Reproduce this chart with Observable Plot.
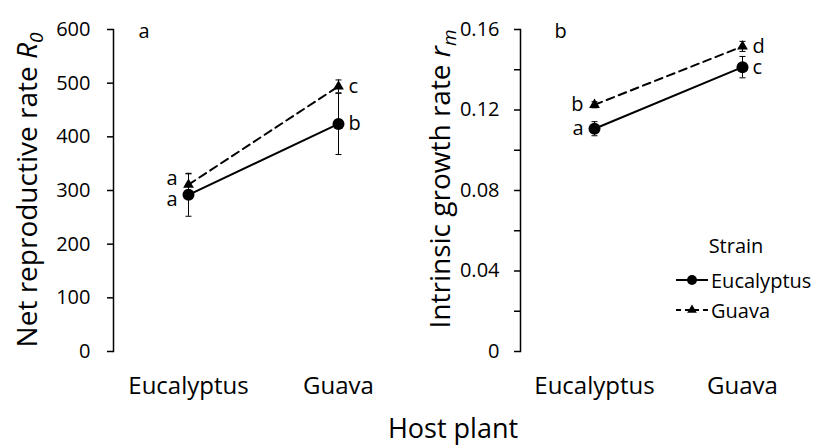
<!DOCTYPE html>
<html><head><meta charset="utf-8">
<script src="https://cdn.jsdelivr.net/npm/d3@7"></script>
<script src="https://cdn.jsdelivr.net/npm/@observablehq/plot@0.6"></script>
<style>
body{margin:0;background:#fff;overflow:hidden;font-family:"Open Sans",sans-serif;}
#wrap{position:relative;width:813px;height:445px;background:#fff;}
#left{position:absolute;left:0;top:0;}
#right{position:absolute;left:406px;top:0;}
#xtitle{position:absolute;top:410px;left:453px;transform:translateX(-50%);font-size:27px;white-space:nowrap;line-height:36px;color:#000;}
</style></head><body>
<div id="wrap"><div id="left"></div><div id="right"></div><div id="xtitle">Host plant</div></div>
<script>
// ---- data ----
const hostPlants = ["Eucalyptus", "Guava"];
const strains = ["Eucalyptus", "Guava"];

const r0EucStrain = [292, 424];
const r0EucStrainSE = [40, 57];
const r0EucLetters = ["a", "b"];
const r0GuaStrain = [311, 494];
const r0GuaStrainSE = [20, 12];
const r0GuaLetters = ["a", "c"];

const rmEucStrain = [0.1107, 0.1413];
const rmEucStrainSE = [0.0035, 0.0053];
const rmEucLetters = ["a", "c"];
const rmGuaStrain = [0.1226, 0.1516];
const rmGuaStrainSE = [0.0015, 0.0025];
const rmGuaLetters = ["b", "d"];

const r0Ticks = [0, 100, 200, 300, 400, 500, 600];
const rmTicks = [0, 0.02, 0.04, 0.06, 0.08, 0.10, 0.12, 0.14, 0.16];
const rmTickLabels = ["0", "", "0.04", "", "0.08", "", "0.12", "", "0.16"];

function buildRows(eucVals, eucSE, eucLet, guaVals, guaSE, guaLet) {
  const rows = [];
  hostPlants.forEach((h, i) => {
    rows.push({host: h, strain: strains[0], value: eucVals[i], se: eucSE[i], letter: eucLet[i]});
    rows.push({host: h, strain: strains[1], value: guaVals[i], se: guaSE[i], letter: guaLet[i]});
  });
  return rows;
}
const r0Rows = buildRows(r0EucStrain, r0EucStrainSE, r0EucLetters, r0GuaStrain, r0GuaStrainSE, r0GuaLetters);
const rmRows = buildRows(rmEucStrain, rmEucStrainSE, rmEucLetters, rmGuaStrain, rmGuaStrainSE, rmGuaLetters);

const capSymbol = {draw(ctx) { ctx.moveTo(-3, 0); ctx.lineTo(3, 0); }};
const FONT = "Open Sans";

function panel({rows, width, marginLeft, xRange, yDomain, ticks, tickFormat, tickPadding, panelLetter, panelDx, splitEuc}) {
  const isE = d => d.strain === strains[0];
  const isG = d => d.strain === strains[1];
  const euHost = d => d.host === hostPlants[0];
  const letterMarks = [];
  if (splitEuc) {
    letterMarks.push(Plot.text(rows.filter(d => euHost(d) && isG(d)), {x: "host", y: "value", text: "letter", textAnchor: "end", dx: -11, dy: -6, fontSize: 20}));
    letterMarks.push(Plot.text(rows.filter(d => euHost(d) && isE(d)), {x: "host", y: "value", text: "letter", textAnchor: "end", dx: -11, dy: 5, fontSize: 20}));
  } else {
    letterMarks.push(Plot.text(rows.filter(euHost), {x: "host", y: "value", text: "letter", textAnchor: "end", dx: -11, fontSize: 20}));
  }
  letterMarks.push(Plot.text(rows.filter(d => !euHost(d)), {x: "host", y: "value", text: "letter", textAnchor: "start", dx: 10, fontSize: 20}));

  return Plot.plot({
    width, height: 402,
    marginLeft, marginRight: 0, marginTop: 29, marginBottom: 51,
    style: {fontFamily: FONT, fontSize: "20px", color: "#000", background: "#fff", overflow: "visible"},
    x: {type: "point", domain: hostPlants, range: xRange, padding: 0},
    y: {domain: yDomain},
    marks: [
      Plot.frame({anchor: "left", stroke: "#000", strokeWidth: 1.5}),
      Plot.axisY({ticks, tickFormat, tickSize: 6, tickPadding, fontSize: 20, label: null, strokeWidth: 1.5}),
      Plot.axisX({tickSize: 0, tickPadding: 25, fontSize: 24, label: null}),
      Plot.line(rows.filter(isE), {x: "host", y: "value", stroke: "#000", strokeWidth: 2}),
      Plot.line(rows.filter(isG), {x: "host", y: "value", stroke: "#000", strokeWidth: 2, strokeDasharray: "8,5"}),
      Plot.ruleX(rows, {x: "host", y1: d => d.value - d.se, y2: d => d.value + d.se, stroke: "#000", strokeWidth: 1}),
      Plot.dot(rows, {x: "host", y: d => d.value - d.se, symbol: capSymbol, stroke: "#000", strokeWidth: 1, fill: "none"}),
      Plot.dot(rows, {x: "host", y: d => d.value + d.se, symbol: capSymbol, stroke: "#000", strokeWidth: 1, fill: "none"}),
      Plot.dot(rows.filter(isE), {x: "host", y: "value", symbol: "circle", r: 6, fill: "#000", stroke: "none"}),
      Plot.dot(rows.filter(isG), {x: "host", y: "value", symbol: "triangle", r: 4, fill: "#000", stroke: "none"}),
      ...letterMarks,
      Plot.text([panelLetter], {frameAnchor: "top-left", text: d => d, textAnchor: "start", dx: panelDx, dy: -6, fontSize: 20})
    ]
  });
}

const left = panel({
  rows: r0Rows, width: 406, marginLeft: 113, xRange: [188, 338], yDomain: [0, 600],
  ticks: r0Ticks, tickFormat: d => String(d), tickPadding: 17, panelLetter: "a", panelDx: 25, splitEuc: true
});
const right = panel({
  rows: rmRows, width: 407, marginLeft: 114, xRange: [188, 336], yDomain: [0, 0.16],
  ticks: rmTicks, tickFormat: (d, i) => rmTickLabels[rmTicks.findIndex(t => Math.abs(t - d) < 1e-9)],
  tickPadding: 15, panelLetter: "b", panelDx: 34, splitEuc: false
});
document.getElementById("left").appendChild(left);
document.getElementById("right").appendChild(right);

function yTitle(svgNode, bx, cy, main, sym, sub) {
  const t = d3.select(svgNode).append("text")
    .attr("transform", `translate(${bx},${cy}) rotate(-90)`)
    .attr("text-anchor", "middle")
    .style("font-family", FONT).style("font-size", "28px").attr("fill", "#000");
  t.append("tspan").text(main);
  t.append("tspan").style("font-style", "italic").text(sym);
  t.append("tspan").style("font-style", "italic").style("font-size", "19px").attr("dy", "0.3em").text(sub);
}
yTitle(left, 37, 190, "Net reproductive rate ", "R", "0");
yTitle(right, 44, 179, "Intrinsic growth rate ", "r", "m");

// legend (strain) inside right panel
const lg = d3.select(right).append("g").style("font-family", FONT).style("font-size", "20px");
lg.append("text").attr("x", 330).attr("y", 253).attr("text-anchor", "middle").attr("fill", "#000").text("Strain");
const legendItems = [
  {name: strains[0], y: 280, dash: null, sym: d3.symbolCircle, size: Math.PI * 25},
  {name: strains[1], y: 310, dash: "5,4", sym: d3.symbolTriangle, size: Math.PI * 13}
];
legendItems.forEach(it => {
  const g = lg.append("g");
  g.append("line").attr("x1", 270).attr("x2", 302).attr("y1", it.y).attr("y2", it.y)
    .attr("stroke", "#000").attr("stroke-width", 2).attr("stroke-dasharray", it.dash);
  g.append("path").attr("d", d3.symbol(it.sym, it.size)()).attr("transform", `translate(286,${it.y})`).attr("fill", "#000");
  g.append("text").attr("x", 305).attr("y", it.y + 8).attr("text-anchor", "start").attr("fill", "#000").text(it.name);
});
</script>
</body></html>
